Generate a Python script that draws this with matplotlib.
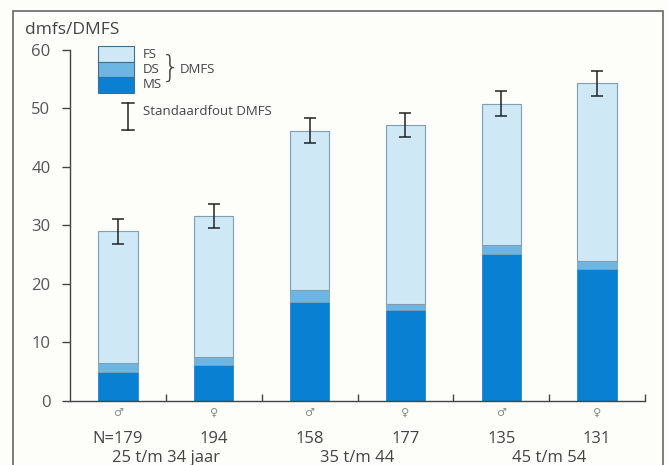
import matplotlib
matplotlib.use("Agg")
import matplotlib.pyplot as plt
from matplotlib.patches import Rectangle
from matplotlib.lines import Line2D

plt.rcParams['font.family'] = ['Open Sans', 'DejaVu Sans']

# mean dmfs/DMFS per group, split into MS / DS / FS
sexes = ['♂', '♀', '♂', '♀', '♂', '♀']
n_labels = ['N=179', '194', '158', '177', '135', '131']
age_groups = ['25 t/m 34 jaar', '35 t/m 44', '45 t/m 54']
ms = [4.9, 6.0, 16.9, 15.5, 25.1, 22.5]
ds = [1.5, 1.5, 2.0, 1.0, 1.5, 1.4]
fs = [22.6, 24.1, 27.3, 30.7, 24.2, 30.4]
se = [2.15, 2.1, 2.2, 2.1, 2.15, 2.15]

c_fs = '#cfe8f5'
c_ds = '#6db6e3'
c_ms = '#0a80d2'
edge = '#7f9fb3'
text_col = '#444444'
bg = '#fdfdf9'

W, H = 668, 465
fig = plt.figure(figsize=(W / 100, H / 100), dpi=100, facecolor=bg)


def px(x, y):
    return x / W, 1 - y / H


l, b = px(70, 400.5)
r, t = px(645, 50)
ax = fig.add_axes([l, b, r - l, t - b], facecolor=bg)

x = list(range(len(ms)))
width = 0.41
bottom_fs = [m + d for m, d in zip(ms, ds)]
totals = [m + d + f for m, d, f in zip(ms, ds, fs)]

ax.bar(x, ms, width, color=c_ms, edgecolor=c_ms, linewidth=0.5)
ax.bar(x, ds, width, bottom=ms, color=c_ds, edgecolor=edge, linewidth=0.6)
ax.bar(x, fs, width, bottom=bottom_fs, color=c_fs, edgecolor=edge, linewidth=0.8)
ax.errorbar(x, totals, yerr=se, fmt='none', ecolor='#222222', elinewidth=1.1,
            capsize=4.5, capthick=1.1)

ax.set_xlim(-0.5, 5.5)
ax.set_ylim(0, 60)
ax.set_yticks(range(0, 61, 10))
ax.set_xticks([0.5, 1.5, 2.5, 3.5, 4.5, 5.5])
ax.set_xticklabels([])
ax.tick_params(axis='y', direction='out', length=6, width=1, colors='#444444',
               labelcolor='#555555', labelsize=12, pad=8)
ax.tick_params(axis='x', direction='in', length=5, width=1, colors='#444444')
for s in ['top', 'right']:
    ax.spines[s].set_visible(False)
for s in ['left', 'bottom']:
    ax.spines[s].set_color('#444444')
    ax.spines[s].set_linewidth(1)

# group labels under the axis
trans = ax.get_xaxis_transform()
for i in x:
    ax.text(i, -0.035, sexes[i], ha='center', va='center', fontsize=8, color='#888888',
            family=['DejaVu Sans'], transform=trans, clip_on=False)
    ax.text(i, -0.11, n_labels[i], ha='center', va='center', fontsize=12,
            color=text_col, transform=trans, clip_on=False)
for g, lab in enumerate(age_groups):
    ax.text(2 * g + 0.5, -0.163, lab, ha='center', va='center', fontsize=12,
            color=text_col, transform=trans, clip_on=False)

fig.text(*px(25, 30), 'dmfs/DMFS', ha='left', va='center', fontsize=12.5, color=text_col)

# legend
for k, (col, lab) in enumerate([(c_fs, 'FS'), (c_ds, 'DS'), (c_ms, 'MS')]):
    x0, y0 = px(98, 46 + 15.5 * (k + 1))
    x1, y1 = px(134, 46 + 15.5 * k)
    fig.patches.append(Rectangle((x0, y0), x1 - x0, y1 - y0, transform=fig.transFigure,
                                 facecolor=col, edgecolor='#3f6f8f', linewidth=0.8))
    fig.text(*px(143, 54 + 15 * k), lab, ha='left', va='center', fontsize=9.5,
             color=text_col)
fig.text(*px(161, 68), '}', ha='left', va='center', fontsize=22, color=text_col,
         fontweight='light', family=['DejaVu Sans'])
fig.text(*px(180, 69), 'DMFS', ha='left', va='center', fontsize=9.5, color=text_col)

# standard error sample
for seg in [((128, 128), (103, 130)), ((122, 134), (103, 103)), ((122, 134), (130, 130))]:
    xs = [px(v, 0)[0] for v in seg[0]]
    ys = [px(0, v)[1] for v in seg[1]]
    fig.lines.append(Line2D(xs, ys, transform=fig.transFigure, color='#222222', linewidth=1.1))
fig.text(*px(143, 111), 'Standaardfout DMFS', ha='left', va='center', fontsize=9.5,
         color=text_col)

# outer frame
fx0, fy0 = px(13, 480)
fx1, fy1 = px(663, 11)
fig.patches.append(Rectangle((fx0, fy0), fx1 - fx0, fy1 - fy0, transform=fig.transFigure,
                             facecolor='none', edgecolor='#666666', linewidth=1.2,
                             clip_on=False))

fig.savefig('out.png', dpi=100, facecolor=bg)
